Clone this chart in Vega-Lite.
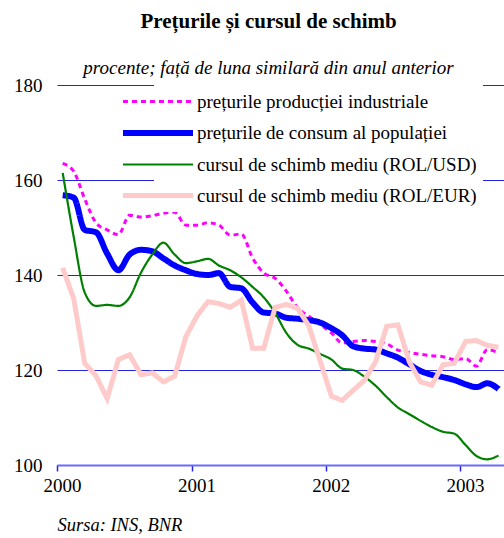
{
  "$schema": "https://vega.github.io/schema/vega-lite/v6.json",
  "width": 447,
  "height": 380,
  "autosize": {"type": "none"},
  "padding": {"left": 57, "top": 85, "right": 0, "bottom": 73},
  "background": "white",
  "title": {
    "text": "Prețurile și cursul de schimb",
    "subtitle": "procente; față de luna similară din anul anterior",
    "font": "Liberation Serif", "fontSize": 21, "fontWeight": "bold", "color": "black",
    "subtitleFont": "Liberation Serif", "subtitleFontSize": 19, "subtitleFontStyle": "italic", "subtitleColor": "black",
    "subtitlePadding": 27, "offset": -2, "anchor": "middle", "frame": "group", "dx": -12
  },
  "config": {"view": {"stroke": null}, "font": "Liberation Serif"},
  "data": {"values": [
    {"month":"2000-01","series":"prețurile producției industriale","v":163.5},
    {"month":"2000-02","series":"prețurile producției industriale","v":161.8},
    {"month":"2000-03","series":"prețurile producției industriale","v":156},
    {"month":"2000-04","series":"prețurile producției industriale","v":151},
    {"month":"2000-05","series":"prețurile producției industriale","v":149.5},
    {"month":"2000-06","series":"prețurile producției industriale","v":148.5},
    {"month":"2000-07","series":"prețurile producției industriale","v":152.6},
    {"month":"2000-08","series":"prețurile producției industriale","v":152.2},
    {"month":"2000-09","series":"prețurile producției industriale","v":152.5},
    {"month":"2000-10","series":"prețurile producției industriale","v":153},
    {"month":"2000-11","series":"prețurile producției industriale","v":153.2},
    {"month":"2000-12","series":"prețurile producției industriale","v":150.5},
    {"month":"2001-01","series":"prețurile producției industriale","v":150.5},
    {"month":"2001-02","series":"prețurile producției industriale","v":151},
    {"month":"2001-03","series":"prețurile producției industriale","v":150.5},
    {"month":"2001-04","series":"prețurile producției industriale","v":148.4},
    {"month":"2001-05","series":"prețurile producției industriale","v":148.6},
    {"month":"2001-06","series":"prețurile producției industriale","v":143.6},
    {"month":"2001-07","series":"prețurile producției industriale","v":140.4},
    {"month":"2001-08","series":"prețurile producției industriale","v":139.3},
    {"month":"2001-09","series":"prețurile producției industriale","v":136.6},
    {"month":"2001-10","series":"prețurile producției industriale","v":133.1},
    {"month":"2001-11","series":"prețurile producției industriale","v":131.3},
    {"month":"2001-12","series":"prețurile producției industriale","v":129.6},
    {"month":"2002-01","series":"prețurile producției industriale","v":127.8},
    {"month":"2002-02","series":"prețurile producției industriale","v":125.7},
    {"month":"2002-03","series":"prețurile producției industriale","v":126},
    {"month":"2002-04","series":"prețurile producției industriale","v":126.2},
    {"month":"2002-05","series":"prețurile producției industriale","v":126},
    {"month":"2002-06","series":"prețurile producției industriale","v":125.5},
    {"month":"2002-07","series":"prețurile producției industriale","v":124.2},
    {"month":"2002-08","series":"prețurile producției industriale","v":123.7},
    {"month":"2002-09","series":"prețurile producției industriale","v":123.3},
    {"month":"2002-10","series":"prețurile producției industriale","v":123},
    {"month":"2002-11","series":"prețurile producției industriale","v":122.8},
    {"month":"2002-12","series":"prețurile producției industriale","v":122.2},
    {"month":"2003-01","series":"prețurile producției industriale","v":122.4},
    {"month":"2003-02","series":"prețurile producției industriale","v":120.8},
    {"month":"2003-03","series":"prețurile producției industriale","v":124.3},
    {"month":"2003-04","series":"prețurile producției industriale","v":123.6},

    {"month":"2000-01","series":"prețurile de consum al populației","v":156.8},
    {"month":"2000-02","series":"prețurile de consum al populației","v":156.3},
    {"month":"2000-03","series":"prețurile de consum al populației","v":149.5},
    {"month":"2000-04","series":"prețurile de consum al populației","v":149},
    {"month":"2000-05","series":"prețurile de consum al populației","v":144.5},
    {"month":"2000-06","series":"prețurile de consum al populației","v":141},
    {"month":"2000-07","series":"prețurile de consum al populației","v":144.3},
    {"month":"2000-08","series":"prețurile de consum al populației","v":145.3},
    {"month":"2000-09","series":"prețurile de consum al populației","v":145},
    {"month":"2000-10","series":"prețurile de consum al populației","v":143.5},
    {"month":"2000-11","series":"prețurile de consum al populației","v":142},
    {"month":"2000-12","series":"prețurile de consum al populației","v":141},
    {"month":"2001-01","series":"prețurile de consum al populației","v":140.2},
    {"month":"2001-02","series":"prețurile de consum al populației","v":140},
    {"month":"2001-03","series":"prețurile de consum al populației","v":140.4},
    {"month":"2001-04","series":"prețurile de consum al populației","v":137.5},
    {"month":"2001-05","series":"prețurile de consum al populației","v":137.2},
    {"month":"2001-06","series":"prețurile de consum al populației","v":134.2},
    {"month":"2001-07","series":"prețurile de consum al populației","v":132.1},
    {"month":"2001-08","series":"prețurile de consum al populației","v":131.9},
    {"month":"2001-09","series":"prețurile de consum al populației","v":131},
    {"month":"2001-10","series":"prețurile de consum al populației","v":130.8},
    {"month":"2001-11","series":"prețurile de consum al populației","v":130.5},
    {"month":"2001-12","series":"prețurile de consum al populației","v":130},
    {"month":"2002-01","series":"prețurile de consum al populației","v":128.8},
    {"month":"2002-02","series":"prețurile de consum al populației","v":127.3},
    {"month":"2002-03","series":"prețurile de consum al populației","v":125},
    {"month":"2002-04","series":"prețurile de consum al populației","v":124.5},
    {"month":"2002-05","series":"prețurile de consum al populației","v":124.3},
    {"month":"2002-06","series":"prețurile de consum al populației","v":123.5},
    {"month":"2002-07","series":"prețurile de consum al populației","v":122.6},
    {"month":"2002-08","series":"prețurile de consum al populației","v":121.2},
    {"month":"2002-09","series":"prețurile de consum al populației","v":119.8},
    {"month":"2002-10","series":"prețurile de consum al populației","v":119},
    {"month":"2002-11","series":"prețurile de consum al populației","v":118.5},
    {"month":"2002-12","series":"prețurile de consum al populației","v":117.9},
    {"month":"2003-01","series":"prețurile de consum al populației","v":117},
    {"month":"2003-02","series":"prețurile de consum al populației","v":116.4},
    {"month":"2003-03","series":"prețurile de consum al populației","v":117.2},
    {"month":"2003-04","series":"prețurile de consum al populației","v":116},

    {"month":"2000-01","series":"cursul de schimb mediu (ROL/USD)","v":161.5},
    {"month":"2000-02","series":"cursul de schimb mediu (ROL/USD)","v":148},
    {"month":"2000-03","series":"cursul de schimb mediu (ROL/USD)","v":136.3},
    {"month":"2000-04","series":"cursul de schimb mediu (ROL/USD)","v":133.5},
    {"month":"2000-05","series":"cursul de schimb mediu (ROL/USD)","v":133.7},
    {"month":"2000-06","series":"cursul de schimb mediu (ROL/USD)","v":133.5},
    {"month":"2000-07","series":"cursul de schimb mediu (ROL/USD)","v":135.3},
    {"month":"2000-08","series":"cursul de schimb mediu (ROL/USD)","v":140.5},
    {"month":"2000-09","series":"cursul de schimb mediu (ROL/USD)","v":144.3},
    {"month":"2000-10","series":"cursul de schimb mediu (ROL/USD)","v":146.8},
    {"month":"2000-11","series":"cursul de schimb mediu (ROL/USD)","v":144.3},
    {"month":"2000-12","series":"cursul de schimb mediu (ROL/USD)","v":142.5},
    {"month":"2001-01","series":"cursul de schimb mediu (ROL/USD)","v":142.9},
    {"month":"2001-02","series":"cursul de schimb mediu (ROL/USD)","v":143.4},
    {"month":"2001-03","series":"cursul de schimb mediu (ROL/USD)","v":142},
    {"month":"2001-04","series":"cursul de schimb mediu (ROL/USD)","v":141},
    {"month":"2001-05","series":"cursul de schimb mediu (ROL/USD)","v":139.5},
    {"month":"2001-06","series":"cursul de schimb mediu (ROL/USD)","v":137.5},
    {"month":"2001-07","series":"cursul de schimb mediu (ROL/USD)","v":135.3},
    {"month":"2001-08","series":"cursul de schimb mediu (ROL/USD)","v":132},
    {"month":"2001-09","series":"cursul de schimb mediu (ROL/USD)","v":127.8},
    {"month":"2001-10","series":"cursul de schimb mediu (ROL/USD)","v":125.3},
    {"month":"2001-11","series":"cursul de schimb mediu (ROL/USD)","v":124.5},
    {"month":"2001-12","series":"cursul de schimb mediu (ROL/USD)","v":123.4},
    {"month":"2002-01","series":"cursul de schimb mediu (ROL/USD)","v":122.2},
    {"month":"2002-02","series":"cursul de schimb mediu (ROL/USD)","v":120.3},
    {"month":"2002-03","series":"cursul de schimb mediu (ROL/USD)","v":120},
    {"month":"2002-04","series":"cursul de schimb mediu (ROL/USD)","v":118.6},
    {"month":"2002-05","series":"cursul de schimb mediu (ROL/USD)","v":116.7},
    {"month":"2002-06","series":"cursul de schimb mediu (ROL/USD)","v":114.3},
    {"month":"2002-07","series":"cursul de schimb mediu (ROL/USD)","v":112.1},
    {"month":"2002-08","series":"cursul de schimb mediu (ROL/USD)","v":110.7},
    {"month":"2002-09","series":"cursul de schimb mediu (ROL/USD)","v":109.3},
    {"month":"2002-10","series":"cursul de schimb mediu (ROL/USD)","v":108},
    {"month":"2002-11","series":"cursul de schimb mediu (ROL/USD)","v":107},
    {"month":"2002-12","series":"cursul de schimb mediu (ROL/USD)","v":106.6},
    {"month":"2003-01","series":"cursul de schimb mediu (ROL/USD)","v":104.2},
    {"month":"2003-02","series":"cursul de schimb mediu (ROL/USD)","v":101.9},
    {"month":"2003-03","series":"cursul de schimb mediu (ROL/USD)","v":101.2},
    {"month":"2003-04","series":"cursul de schimb mediu (ROL/USD)","v":102},

    {"month":"2000-01","series":"cursul de schimb mediu (ROL/EUR)","v":141.5},
    {"month":"2000-02","series":"cursul de schimb mediu (ROL/EUR)","v":135},
    {"month":"2000-03","series":"cursul de schimb mediu (ROL/EUR)","v":121.4},
    {"month":"2000-04","series":"cursul de schimb mediu (ROL/EUR)","v":118.8},
    {"month":"2000-05","series":"cursul de schimb mediu (ROL/EUR)","v":114},
    {"month":"2000-06","series":"cursul de schimb mediu (ROL/EUR)","v":122.2},
    {"month":"2000-07","series":"cursul de schimb mediu (ROL/EUR)","v":123.2},
    {"month":"2000-08","series":"cursul de schimb mediu (ROL/EUR)","v":119},
    {"month":"2000-09","series":"cursul de schimb mediu (ROL/EUR)","v":119.4},
    {"month":"2000-10","series":"cursul de schimb mediu (ROL/EUR)","v":117.5},
    {"month":"2000-11","series":"cursul de schimb mediu (ROL/EUR)","v":118.7},
    {"month":"2000-12","series":"cursul de schimb mediu (ROL/EUR)","v":127},
    {"month":"2001-01","series":"cursul de schimb mediu (ROL/EUR)","v":131.5},
    {"month":"2001-02","series":"cursul de schimb mediu (ROL/EUR)","v":134.4},
    {"month":"2001-03","series":"cursul de schimb mediu (ROL/EUR)","v":134},
    {"month":"2001-04","series":"cursul de schimb mediu (ROL/EUR)","v":133.2},
    {"month":"2001-05","series":"cursul de schimb mediu (ROL/EUR)","v":134.7},
    {"month":"2001-06","series":"cursul de schimb mediu (ROL/EUR)","v":124.6},
    {"month":"2001-07","series":"cursul de schimb mediu (ROL/EUR)","v":124.6},
    {"month":"2001-08","series":"cursul de schimb mediu (ROL/EUR)","v":133.2},
    {"month":"2001-09","series":"cursul de schimb mediu (ROL/EUR)","v":133.8},
    {"month":"2001-10","series":"cursul de schimb mediu (ROL/EUR)","v":133},
    {"month":"2001-11","series":"cursul de schimb mediu (ROL/EUR)","v":129.3},
    {"month":"2001-12","series":"cursul de schimb mediu (ROL/EUR)","v":122},
    {"month":"2002-01","series":"cursul de schimb mediu (ROL/EUR)","v":114.5},
    {"month":"2002-02","series":"cursul de schimb mediu (ROL/EUR)","v":113.6},
    {"month":"2002-03","series":"cursul de schimb mediu (ROL/EUR)","v":115.7},
    {"month":"2002-04","series":"cursul de schimb mediu (ROL/EUR)","v":117.8},
    {"month":"2002-05","series":"cursul de schimb mediu (ROL/EUR)","v":121.7},
    {"month":"2002-06","series":"cursul de schimb mediu (ROL/EUR)","v":129.2},
    {"month":"2002-07","series":"cursul de schimb mediu (ROL/EUR)","v":129.5},
    {"month":"2002-08","series":"cursul de schimb mediu (ROL/EUR)","v":121.7},
    {"month":"2002-09","series":"cursul de schimb mediu (ROL/EUR)","v":117.5},
    {"month":"2002-10","series":"cursul de schimb mediu (ROL/EUR)","v":116.8},
    {"month":"2002-11","series":"cursul de schimb mediu (ROL/EUR)","v":121.1},
    {"month":"2002-12","series":"cursul de schimb mediu (ROL/EUR)","v":121.4},
    {"month":"2003-01","series":"cursul de schimb mediu (ROL/EUR)","v":126},
    {"month":"2003-02","series":"cursul de schimb mediu (ROL/EUR)","v":126.2},
    {"month":"2003-03","series":"cursul de schimb mediu (ROL/EUR)","v":125.2},
    {"month":"2003-04","series":"cursul de schimb mediu (ROL/EUR)","v":124.8}
  ]},
  "encoding": {
    "x": {
      "field": "month", "timeUnit": "utcyearmonth", "type": "temporal", "bandPosition": 0.5,
      "scale": {"type": "utc", "domain": [{"year": 2000, "month": 1, "date": 1, "utc": true}, {"year": 2003, "month": 5, "date": 1, "utc": true}]},
      "axis": {
        "values": [{"year": 2000, "month": 1, "date": 1, "utc": true}, {"year": 2001, "month": 1, "date": 1, "utc": true}, {"year": 2002, "month": 1, "date": 1, "utc": true}, {"year": 2003, "month": 1, "date": 1, "utc": true}],
        "format": "%Y", "grid": false, "labelFlush": false,
        "domainColor": "#6a6aff", "domainWidth": 2,
        "tickColor": "#2424e0", "tickSize": 6, "tickWidth": 1.5,
        "labelFont": "Liberation Serif", "labelFontSize": 19, "labelColor": "black", "labelPadding": 5, "labelOffset": 5,
        "title": "Sursa: INS, BNR", "titleFont": "Liberation Serif", "titleFontSize": 18.5, "titleFontStyle": "italic", "titleFontWeight": "normal", "titleColor": "black",
        "titleAnchor": "start", "titleAlign": "left", "titlePadding": 20
      }
    },
    "y": {
      "field": "v", "type": "quantitative",
      "scale": {"domain": [100, 180]},
      "axis": {
        "values": [100, 120, 140, 160, 180], "title": null, "grid": true, "gridColor": "#2424e0", "gridWidth": 1,
        "domain": false, "ticks": false,
        "labelFont": "Liberation Serif", "labelFontSize": 19, "labelColor": "black", "labelPadding": 15
      }
    },
    "color": {
      "field": "series", "type": "nominal",
      "scale": {
        "domain": ["prețurile producției industriale", "prețurile de consum al populației", "cursul de schimb mediu (ROL/USD)", "cursul de schimb mediu (ROL/EUR)"],
        "range": ["#ff00ff", "#0000ff", "#008000", "#ffcaca"]
      },
      "legend": {
        "orient": "none", "legendX": 97, "legendY": -6, "title": null,
        "labelFont": "Liberation Serif", "labelFontSize": 19, "labelColor": "black", "labelLimit": 400,
        "symbolType": "M-3.67,0L1,0", "symbolSize": 900, "fillColor": "white", "padding": 6, "rowPadding": 3, "labelOffset": 1
      }
    },
    "strokeDash": {
      "field": "series", "type": "nominal",
      "scale": {
        "domain": ["prețurile producției industriale", "prețurile de consum al populației", "cursul de schimb mediu (ROL/USD)", "cursul de schimb mediu (ROL/EUR)"],
        "range": [[5, 4], [1, 0], [1, 0], [1, 0]]
      }
    },
    "strokeWidth": {
      "field": "series", "type": "nominal",
      "scale": {
        "type": "ordinal",
        "domain": ["prețurile producției industriale", "prețurile de consum al populației", "cursul de schimb mediu (ROL/USD)", "cursul de schimb mediu (ROL/EUR)"],
        "range": [3, 6, 2.2, 5]
      }
    }
  },
  "layer": [
    {"transform": [{"filter": "datum.series !== 'cursul de schimb mediu (ROL/EUR)'"}], "mark": {"type": "line", "interpolate": "monotone"}},
    {"transform": [{"filter": "datum.series === 'cursul de schimb mediu (ROL/EUR)'"}], "mark": {"type": "line"}}
  ]
}
